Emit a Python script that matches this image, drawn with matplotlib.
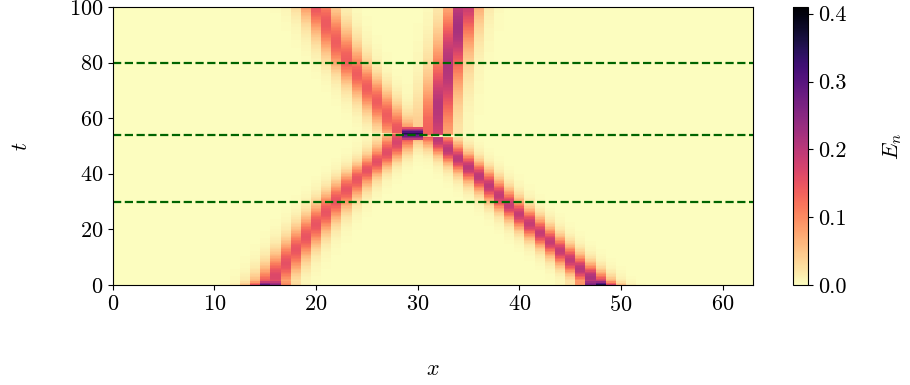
import numpy as np
import matplotlib
matplotlib.use("Agg")
import matplotlib.pyplot as plt

plt.rcParams['font.family'] = 'serif'
plt.rcParams['font.serif'] = ['cmr10']
plt.rcParams['mathtext.fontset'] = 'cm'
plt.rcParams['axes.formatter.use_mathtext'] = True
plt.rcParams['font.size'] = 16

# lattice sites and time grid
sites = np.arange(64)
times = np.arange(0, 100.5, 0.5)

# beam tracks: time, centre (site), peak energy
left_in_t = [0, 1.5, 10, 20, 30, 38, 48, 54]
left_in_x = [15.3, 15.6, 17.4, 19.6, 21.9, 24.0, 27.2, 28.8]
left_in_a = [0.30, 0.17, 0.15, 0.15, 0.15, 0.15, 0.16, 0.18]

right_in_t = [0, 1.5, 10, 20, 30, 40, 48, 53]
right_in_x = [47.8, 47.4, 44.7, 41.6, 38.6, 35.7, 33.2, 31.8]
right_in_a = [0.36, 0.22, 0.19, 0.19, 0.19, 0.2, 0.2, 0.2]

left_out_t = [55, 60, 66, 80, 90, 100]
left_out_x = [28.3, 27.2, 26.0, 23.2, 21.6, 20.1]
left_out_a = [0.15, 0.14, 0.14, 0.14, 0.14, 0.15]

right_out_t = [54, 60, 66, 80, 90, 100]
right_out_x = [31.7, 31.9, 32.2, 33.1, 33.8, 34.5]
right_out_a = [0.18, 0.2, 0.21, 0.21, 0.22, 0.22]

burst_t = [52.5, 54.5, 56.5]
burst_x = [29.5, 29.5, 29.5]
burst_a = [0.25, 0.45, 0.2]

beams = [
    (left_in_t, left_in_x, left_in_a, 1.5),
    (right_in_t, right_in_x, right_in_a, 1.35),
    (left_out_t, left_out_x, left_out_a, 1.5),
    (right_out_t, right_out_x, right_out_a, 1.3),
    (burst_t, burst_x, burst_a, 1.0),
]

dashed_t = [30, 54, 80]

E = np.zeros((len(times), len(sites)))
for bt, bx, ba, w in beams:
    inside = (times >= bt[0]) & (times <= bt[-1])
    tt = times[inside]
    xc = np.interp(tt, bt, bx)
    amp = np.interp(tt, bt, ba)
    prof = amp[:, None] / np.cosh((sites[None, :] - xc[:, None]) / w) ** 2
    E[inside] = np.maximum(E[inside], prof)

fig = plt.figure(figsize=(9.1, 3.85), dpi=100)
ax = fig.add_axes([0.124, 0.26, 0.7035, 0.722])
cax = fig.add_axes([0.8715, 0.26, 0.0165, 0.722])

mesh = ax.pcolormesh(sites, times, E, cmap='magma_r', vmin=0, vmax=0.41,
                     shading='nearest', rasterized=True)
for tl in dashed_t:
    ax.axhline(tl, color='darkgreen', ls='--', lw=1.6)

ax.set_xlim(0, 63)
ax.set_ylim(0, 100)
ax.set_xticks([0, 10, 20, 30, 40, 50, 60])
ax.set_yticks([0, 20, 40, 60, 80, 100])
ax.set_xlabel('$x$', labelpad=32)
ax.set_ylabel('$t$', labelpad=27)

cb = fig.colorbar(mesh, cax=cax)
cb.set_ticks([0.0, 0.1, 0.2, 0.3, 0.4])
cb.set_ticklabels(['0.0', '0.1', '0.2', '0.3', '0.4'])
cb.set_label('$E_n$', labelpad=25)
cb.outline.set_linewidth(0.8)

fig.savefig('out.png', dpi=100)
